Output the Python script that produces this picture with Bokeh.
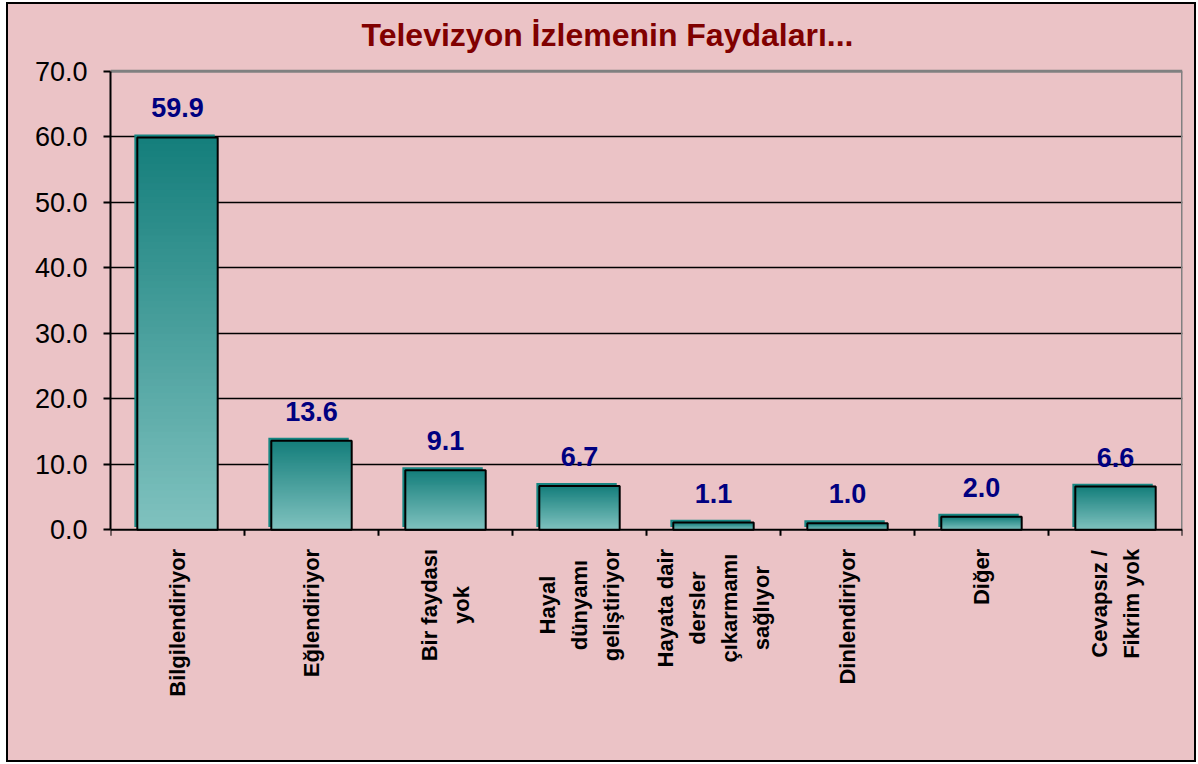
import numpy as np
from bokeh.plotting import figure
from bokeh.models import (Range1d, FixedTicker, LinearAxis, ColumnDataSource,
                          LabelSet, Label, NumeralTickFormatter)
from bokeh.core.properties import value
from bokeh.embed import file_html
from bokeh.resources import INLINE

# ---- data ----
categories = ["Bilgilendiriyor", "Eğlendiriyor", "Bir faydası\nyok",
              "Hayal\ndünyamı\ngeliştiriyor",
              "Hayata dair\ndersler\nçıkarmamı\nsağlıyor",
              "Dinlendiriyor", "Diğer", "Cevapsız /\nFikrim yok"]
values = [59.9, 13.6, 9.1, 6.7, 1.1, 1.0, 2.0, 6.6]
y_ticks = [0, 10, 20, 30, 40, 50, 60, 70]
title_text = "Televizyon İzlemenin Faydaları..."

# ---- style ----
BG = "#EBC3C6"
FONT = "Liberation Sans"
DARK = np.array([0x14, 0x7E, 0x7B])
LIGHT = np.array([0x80, 0xC2, 0xBF])
XLAB_SIZE = 22
LINE_GAP = 32
XLAB_STANDOFF = 19
Y_MIN, Y_MAX = 0, 70
Y_LOW = -34.3          # room below zero for the category labels
Y_HIGH = 80.2          # room above the plot area for the title

ADV = {'a': 556, 'b': 611, 'c': 556, 'd': 611, 'e': 556, 'f': 333, 'g': 611,
       'h': 611, 'i': 278, 'j': 278, 'k': 556, 'l': 278, 'm': 889, 'n': 611,
       'o': 611, 'p': 611, 'q': 611, 'r': 389, 's': 556, 't': 333, 'u': 611,
       'v': 556, 'w': 778, 'x': 556, 'y': 556, 'z': 500, ' ': 278, '/': 278,
       'B': 722, 'C': 722, 'D': 722, 'E': 667, 'F': 611, 'H': 722, 'ğ': 611,
       'ı': 278, 'ş': 556, 'ç': 556, 'ü': 611, 'İ': 278}


def text_width(s, size):
    return sum(ADV.get(ch, 600) for ch in s) * size / 1000.0


n = len(categories)
centers = [i + 0.5 for i in range(n)]
bounds = list(range(n + 1))

p = figure(width=1190, height=760, output_backend="svg", toolbar_location=None,
           x_range=Range1d(0, n), y_range=Range1d(Y_LOW, Y_HIGH),
           x_axis_location=None, y_axis_location=None,
           min_border_left=102, min_border_right=16,
           min_border_top=0, min_border_bottom=10)
p.background_fill_color = BG
p.border_fill_color = BG
p.outline_line_color = None
p.styles = {"border": "2px solid black", "box-sizing": "border-box",
            "margin-left": "6px", "margin-top": "2px",
            "background-color": BG}

# grid
p.xgrid.visible = False
p.ygrid.ticker = FixedTicker(ticks=y_ticks[1:-1])
p.ygrid.grid_line_color = "black"
p.ygrid.grid_line_width = 1.5

# plot-area border (grey top and right)
p.segment(x0=[0, n], y0=[Y_MAX, Y_MIN], x1=[n, n], y1=[Y_MAX, Y_MAX],
          line_color="#808080", line_width=3)

# y axis
yax = LinearAxis(ticker=FixedTicker(ticks=y_ticks),
                 formatter=NumeralTickFormatter(format="0.0"),
                 bounds=(Y_MIN, Y_MAX))
yax.axis_line_color = "black"
yax.axis_line_width = 2
yax.major_tick_line_color = "black"
yax.major_tick_line_width = 2
yax.major_tick_out = 7
yax.major_tick_in = 0
yax.minor_tick_out = 0
yax.minor_tick_in = 0
yax.major_label_standoff = 16
yax.major_label_text_font = FONT
yax.major_label_text_font_size = "27px"
yax.major_label_text_color = "black"
p.add_layout(yax, "left")

# x axis line and boundary ticks at y = 0
p.segment(x0=[0], y0=[Y_MIN], x1=[n], y1=[Y_MIN], line_color="black", line_width=2)
p.segment(x0=bounds, y0=[Y_MIN] * len(bounds), x1=bounds, y1=[Y_MIN - 0.9] * len(bounds),
          line_color="black", line_width=2)

# title
p.add_layout(Label(x=n / 2, y=Y_MAX, text=title_text, x_offset=-39, y_offset=36,
                   text_align="center", text_baseline="alphabetic",
                   text_font=FONT, text_font_size="32px", text_font_style="bold",
                   text_color="#800000"))

# category labels: rotated, lines centred on each other
for c, lab in zip(centers, categories):
    lines = lab.split("\n")
    m = len(lines)
    maxw = max(text_width(s, XLAB_SIZE) for s in lines)
    for i, s in enumerate(lines):
        p.add_layout(Label(x=c, y=Y_MIN, text=s, angle=np.pi / 2,
                           x_offset=(i - (m - 1) / 2) * LINE_GAP,
                           y_offset=-(XLAB_STANDOFF + maxw / 2),
                           text_align="center", text_baseline="middle",
                           text_font=FONT, text_font_size=f"{XLAB_SIZE}px",
                           text_font_style="bold", text_color="black"))

# bars: shadow
bw = 0.6
dx, dy = 0.022, 0.45
p.vbar(x=[c - dx for c in centers], top=[v + dy for v in values],
       bottom=dy, width=bw, fill_color="#168682", line_color=None)

# bars: gradient (overlapping slices, drawn bottom to top)
N = 60
gx, gb, gt, gc = [], [], [], []
for c, v in zip(centers, values):
    for k in range(N):
        t = (k + 0.5) / N
        col = LIGHT + (DARK - LIGHT) * t
        gx.append(c)
        gb.append(v * k / N)
        gt.append(v)
        gc.append("#%02x%02x%02x" % tuple(int(round(x)) for x in col))
p.vbar(x=gx, bottom=gb, top=gt, width=bw, fill_color=gc, line_color=None)

# bars: outline
p.vbar(x=centers, top=values, bottom=0, width=bw, fill_color=None,
       line_color="black", line_width=2)

# value labels
src = ColumnDataSource(dict(x=centers, y=values, t=[f"{v:.1f}" for v in values]))
p.add_layout(LabelSet(x="x", y="y", text="t", source=src, y_offset=20,
                      text_align="center", text_baseline="alphabetic",
                      text_font=value(FONT), text_font_size=value("27px"),
                      text_font_style="bold", text_color="#000080"))

open("out.html", "w").write(file_html(p, INLINE))
